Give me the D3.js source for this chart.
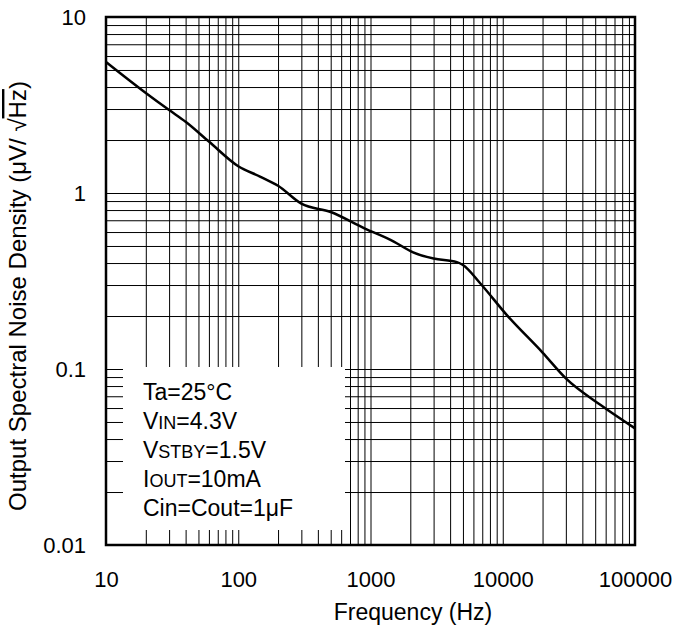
<!DOCTYPE html>
<html>
<head>
<meta charset="utf-8">
<script src="https://cdn.jsdelivr.net/npm/d3@7"></script>
<style>
  body { margin: 0; background: #fff; }
  text { font-family: "Liberation Sans", Arial, sans-serif; fill: #000; }
</style>
</head>
<body>
<div id="chart"></div>
<script>
(function() {
  var width = 677,
    height = 632;

  // curve: frequency (Hz) and noise density (uV/rtHz)
  var freq  = [10, 20, 30, 40, 60, 100, 146, 200, 300, 500, 900, 1500, 2100, 3000, 4500, 5000, 6800, 10700, 20000, 30000, 55000, 100000];
  var noise = [5.55, 3.7, 2.96, 2.54, 1.96, 1.42, 1.24, 1.1, 0.87, 0.78, 0.63, 0.53, 0.46, 0.424, 0.405, 0.39, 0.305, 0.203, 0.124, 0.0885, 0.0624, 0.046];

  var xTicks = [10, 100, 1000, 10000, 100000];
  var xTickLabels = ["10", "100", "1000", "10000", "100000"];
  var yTicks = [10, 1, 0.1, 0.01];
  var yTickLabels = ["10", "1", "0.1", "0.01"];

  var notes = [
    [["Ta=25\u00b0C", 0]],
    [["V", 0], ["IN", 1], ["=4.3V", 0]],
    [["V", 0], ["STBY", 1], ["=1.5V", 0]],
    [["I", 0], ["OUT", 1], ["=10mA", 0]],
    [["Cin=Cout=1\u03bcF", 0]]
  ];

  var left = 106, right = 635, top = 17, bottom = 545;

  var x = d3.scaleLog().domain([10, 100000]).range([left, right]);
  var y = d3.scaleLog().domain([0.01, 10]).range([bottom, top]);

  var svg = d3.select("#chart")
    .append("svg")
    .attr("width", width)
    .attr("height", height);

  // grid lines at 1..9 of every decade
  var xGrid = [], yGrid = [];
  d3.range(1, 5).forEach(function(e) {
    d3.range(1, 10).forEach(function(m) { xGrid.push(m * Math.pow(10, e)); });
  });
  d3.range(-2, 1).forEach(function(e) {
    d3.range(1, 10).forEach(function(m) { yGrid.push(+(m * Math.pow(10, e)).toPrecision(3)); });
  });

  svg.append("g")
    .attr("transform", "translate(0," + bottom + ")")
    .call(d3.axisBottom(x).tickValues(xGrid).tickSize(-(bottom - top)).tickFormat(""))
    .call(function(g) {
      g.select(".domain").remove();
      g.selectAll("line").attr("stroke", "#000").attr("stroke-width", 1);
    });

  svg.append("g")
    .attr("transform", "translate(" + left + ",0)")
    .call(d3.axisLeft(y).tickValues(yGrid).tickSize(-(right - left)).tickFormat(""))
    .call(function(g) {
      g.select(".domain").remove();
      g.selectAll("line").attr("stroke", "#000").attr("stroke-width", 1);
    });

  // white box behind the conditions
  svg.append("rect")
    .attr("x", 123)
    .attr("y", 367)
    .attr("width", 222)
    .attr("height", 163)
    .attr("fill", "#fff");

  var line = d3.line()
    .x(function(d, i) { return x(freq[i]); })
    .y(function(d) { return y(d); })
    .curve(d3.curveMonotoneX);

  svg.append("path")
    .datum(noise)
    .attr("d", line)
    .attr("fill", "none")
    .attr("stroke", "#000")
    .attr("stroke-width", 2.5)
    .attr("stroke-linejoin", "round");

  // frame
  svg.append("rect")
    .attr("x", left)
    .attr("y", top)
    .attr("width", right - left)
    .attr("height", bottom - top)
    .attr("fill", "none")
    .attr("stroke", "#000")
    .attr("stroke-width", 2.5);

  // tick labels
  svg.append("g")
    .attr("transform", "translate(0," + bottom + ")")
    .call(d3.axisBottom(x).tickValues(xTicks).tickSize(0).tickPadding(26)
      .tickFormat(function(d, i) { return xTickLabels[i]; }))
    .call(function(g) {
      g.select(".domain").remove();
      g.selectAll("text").attr("font-size", 22).attr("font-family", null);
    });

  svg.append("g")
    .attr("transform", "translate(" + left + ",0)")
    .call(d3.axisLeft(y).tickValues(yTicks).tickSize(0).tickPadding(20)
      .tickFormat(function(d, i) { return yTickLabels[i]; }))
    .call(function(g) {
      g.select(".domain").remove();
      g.selectAll("text").attr("font-size", 22).attr("font-family", null);
    });

  // axis titles
  svg.append("text")
    .attr("x", 413)
    .attr("y", 620)
    .attr("text-anchor", "middle")
    .attr("font-size", 23)
    .text("Frequency (Hz)");

  var yt = svg.append("text")
    .attr("transform", "translate(26,296) rotate(-90)")
    .attr("text-anchor", "middle")
    .attr("font-size", 24);
  yt.append("tspan").text("Output Spectral Noise Density (\u03bcV/ \u221a");
  yt.append("tspan").style("text-decoration", "overline").text("Hz");
  yt.append("tspan").text(")");

  // conditions
  notes.forEach(function(parts, i) {
    var t = svg.append("text")
      .attr("x", 143)
      .attr("y", 400 + i * 29)
      .attr("font-size", 23);
    parts.forEach(function(p) {
      t.append("tspan")
        .attr("font-size", p[1] ? 18 : 23)
        .text(p[0]);
    });
  });
})();
</script>
</body>
</html>
